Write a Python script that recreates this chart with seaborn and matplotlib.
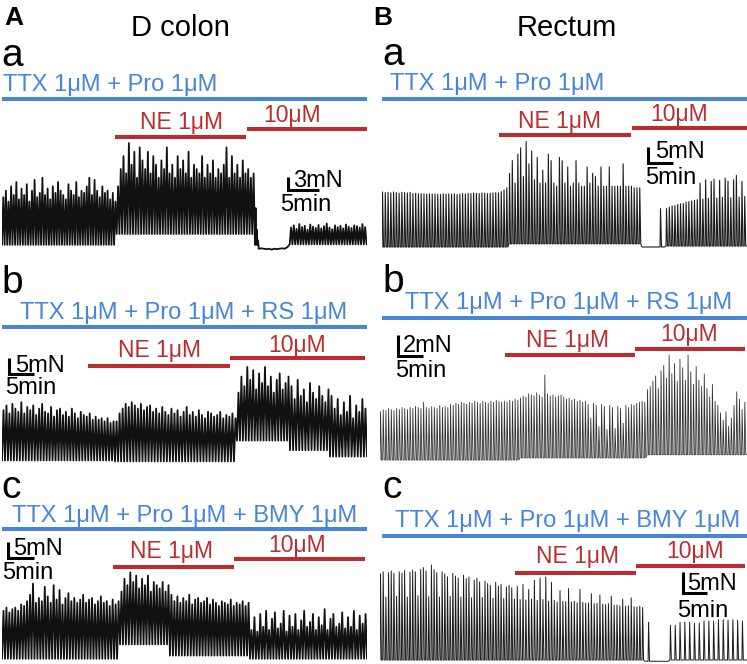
import pandas as pd
import matplotlib
matplotlib.use("Agg")
import matplotlib.pyplot as plt
import matplotlib.transforms as mtransforms
import seaborn as sns

BLUE = "#4784DA"
RED = "#BE2B2F"

# ---------------- data (minutes / mN) ----------------
# D colon a: TTX + Pro
dca_dur = [18.5, 22.3, 0.6, 5.0, 12.4]
dca_base = [0.5, 3.0, 0.5, -0.4, 0.6]
dca_ctrl = [11.5, 13.0, 10.5, 14.0, 12.0, 15.0, 11.0, 13.5, 12.0, 14.5, 10.5, 13.0, 15.5, 11.5, 12.5,
            16.0, 12.0, 13.5, 11.0, 14.0, 12.5, 15.0, 13.0, 12.0, 11.0, 14.5, 13.0, 12.0, 15.0, 11.5,
            13.0, 12.5, 14.0, 16.0, 12.0, 15.5, 13.0, 11.5, 14.0, 12.5, 13.0, 11.0, 12.5, 10.5]
dca_ne1 = [14, 18, 21, 17, 24, 19, 22, 16, 23, 20, 18, 22, 17, 21, 19, 16, 20, 18, 23, 17, 19, 16,
           21, 18, 20, 17, 22, 16, 19, 18, 17, 21, 16, 19, 17, 20, 16, 18, 17, 19, 23, 16, 21, 17,
           19, 16, 20, 17, 18, 16, 17]
dca_drop = [9.0, 4.0, 1.5]
dca_flat = [-0.3, -0.5, -0.6, -0.5, -0.3, -0.1]
dca_ne10 = [4.5, 5.0, 4.2, 5.3, 4.6, 4.9, 4.0, 5.2, 4.7, 4.4, 5.1, 4.3, 4.8, 5.4, 4.5, 4.1, 5.0,
            4.6, 4.9, 4.3, 5.2, 4.7, 4.4, 5.0, 4.8, 4.5, 5.3, 4.6]
dca_drug = {"NE": (18.2, 39.4), "10": (39.5, 58.8), "all": (0.0, 58.9)}

# D colon b: TTX + Pro + RS
dcb_dur = [22.6, 24.4, 10.6, 8.0, 7.4]
dcb_base = [0.8, 0.5, 7.0, 4.0, 2.0]
dcb_ctrl = [16.5, 18.0, 15.5, 18.5, 17.0, 16.0, 19.0, 15.5, 17.5, 16.5, 18.0, 15.0, 17.0, 18.5,
            16.0, 15.5, 17.5, 14.5, 16.5, 17.0, 15.0, 16.0, 14.5, 17.0, 15.5, 14.0, 16.0, 15.0,
            14.5, 15.5, 13.5, 14.5, 13.5, 14.0, 13.0, 14.0, 12.5, 13.0]
dcb_ne1 = [13.0, 15.5, 17.0, 18.5, 17.5, 19.0, 18.0, 17.0, 18.5, 16.5, 17.5, 18.0, 16.0, 17.0,
           15.5, 17.5, 16.0, 15.0, 17.0, 15.5, 16.5, 14.5, 16.0, 17.5, 15.0, 16.0, 14.5, 16.5,
           15.0, 14.0, 16.0, 15.5, 14.5, 15.0, 16.0, 14.0, 15.0, 14.5, 15.5, 14.0]
dcb_ne10a = [22, 27, 24, 30, 26, 29, 23, 28, 25, 30, 24, 27, 22, 26, 28, 23, 25, 27]
dcb_ne10b = [24, 20, 26, 21, 23, 19, 25, 22, 20, 24, 21, 19, 23]
dcb_ne10c = [21, 17, 20, 15, 19, 16, 21, 14, 18, 16, 20, 17]
dcb_drug = {"NE": (17.2, 45.6), "10": (45.6, 72.6), "all": (0.0, 73.0)}

# D colon c: TTX + Pro + BMY
dcc_dur = [22.7, 9.6, 15.4, 22.5]
dcc_base = [1.0, 5.5, 2.0, 1.0]
dcc_ctrl = [16.0, 17.0, 15.5, 16.5, 17.0, 16.0, 18.0, 17.5, 19.0, 21.0, 24.5, 18.5, 20.0, 19.0,
            23.5, 20.5, 18.5, 24.0, 19.5, 22.5, 18.0, 20.0, 21.5, 19.0, 20.0, 18.5, 19.5, 21.0,
            18.5, 19.5, 20.0, 18.0, 19.0, 20.5, 18.5, 19.0, 17.5, 19.5, 18.0, 19.0]
dcc_ne1a = [22, 26, 24, 28, 25, 27, 23, 26, 24, 27, 22, 25, 24, 23, 25, 22, 24]
dcc_ne1b = [21, 19, 20.5, 18.5, 20, 19, 21, 18, 19.5, 20, 18.5, 19, 20, 18, 19.5, 18.5, 17.5, 19,
            18.5, 18, 19.5, 17.5, 18.5, 18, 19, 17.5, 18.5]
dcc_ne10 = [10, 14, 9.5, 15, 11, 16, 10, 13.5, 15.5, 10.5, 12, 16, 9.5, 14.5, 11, 15, 10, 13, 16,
            11, 12.5, 15, 10, 14, 11.5, 16.5, 10, 13.5, 15, 11, 12, 15.5, 10.5, 14, 11, 16, 10,
            14.5, 12, 15]
dcc_drug = {"NE": (21.4, 44.6), "10": (44.6, 69.8), "all": (0.0, 70.2)}

# Rectum a: TTX + Pro
rea_dur = [25.4, 26.6, 4.8, 16.2]
rea_base = [0.0, 1.0, 0.0, 0.3]
rea_ctrl = [17.2, 17.0, 17.1, 16.9, 17.2, 17.0, 16.8, 17.1, 17.0, 16.9, 17.1, 16.7, 16.8, 16.6,
            16.7, 16.6, 16.5, 16.6, 16.5, 16.6, 16.5, 16.4, 16.6, 16.5, 16.6, 16.5, 16.6, 16.4,
            16.5, 16.7, 16.6, 16.8, 16.7, 16.9, 16.8, 16.7, 16.9, 16.8, 16.7, 16.8, 16.9, 17.0,
            16.9, 17.3, 17.8, 18.5]
rea_ne1 = [23, 27, 20, 29, 31, 22, 33, 26, 30, 21, 28, 20, 24, 20, 29, 27, 20, 19, 28, 27, 20, 25,
           19, 20, 27, 20, 19, 19, 25, 20, 23, 22, 19, 25, 19, 19, 25, 19, 19, 19, 19, 26, 19, 19,
           19, 18.5, 18.5, 18.5]
rea_gap = [0, 0, 0, 0, 0, 0, 12, 0]
rea_ne10 = [12.0, 12.5, 12.8, 13.0, 13.3, 13.5, 13.6, 14.0, 14.2, 14.4, 14.6, 14.8, 20.0, 15.0,
            21.0, 15.2, 20.5, 21.2, 15.3, 20.8, 15.5, 21.5, 20.6, 15.4, 21.0, 22.4, 15.6, 20.5, 15.8]
rea_drug = {"NE": (23.4, 49.8), "10": (50.0, 73.0), "all": (0.0, 73.0)}

# Rectum b: TTX + Pro + RS
reb_dur = [28.0, 25.4, 20.0]
reb_base = [0.0, 0.2, 0.5]
reb_ctrl = [4.6, 4.8, 4.7, 4.9, 4.8, 4.7, 4.9, 4.8, 5.0, 4.9, 4.8, 5.0, 4.9, 5.1, 5.0, 4.9, 5.5,
            5.0, 4.9, 5.1, 5.0, 4.9, 5.2, 5.0, 5.1, 5.0, 5.3, 5.2, 5.4, 5.3, 5.5, 5.4, 5.3, 5.5,
            5.4, 5.6, 5.5, 5.4, 5.6, 5.5, 5.4, 5.6, 5.5, 5.7, 5.6, 5.5, 5.6, 5.5, 5.7, 5.6, 5.8, 5.7]
reb_ne1 = [5.9, 6.1, 6.0, 6.3, 6.2, 6.1, 6.4, 6.2, 6.0, 8.1, 6.3, 6.1, 6.2, 6.0, 6.1, 6.2, 6.0,
           5.8, 5.9, 5.7, 5.8, 5.6, 5.7, 5.5, 5.6, 5.3, 4.0, 5.4, 5.2, 3.2, 5.3, 5.1, 2.9, 5.2,
           5.0, 3.0, 5.1, 4.9, 3.5, 5.2, 5.0, 5.3, 5.2, 5.4, 5.5, 5.6, 5.5]
reb_ne10 = [6.7, 7.0, 7.5, 8.0, 6.8, 8.5, 9.0, 7.8, 10.0, 8.2, 9.2, 7.5, 9.6, 8.8, 7.6, 10.0, 8.4,
            7.2, 8.9, 7.6, 7.0, 8.2, 6.8, 6.0, 7.2, 5.6, 5.2, 4.5, 3.8, 4.6, 3.2, 4.0, 5.2, 6.5,
            5.8, 4.8, 5.5]
reb_drug = {"NE": (25.0, 51.0), "10": (51.0, 73.0), "all": (0.4, 73.4)}

# Rectum c: TTX + Pro + BMY
rec_dur = [27.9, 27.3, 5.2, 16.0]
rec_base = [0.0, 0.0, -0.3, 0.0]
rec_ctrl = [20.5, 21.0, 15.0, 20.8, 21.2, 20.6, 15.2, 21.0, 20.7, 21.3, 15.0, 20.9, 21.4, 21.0,
            15.3, 21.6, 22.0, 21.2, 15.1, 22.6, 21.5, 20.8, 15.0, 21.0, 20.5, 19.8, 15.2, 20.6,
            20.0, 19.5, 15.0, 20.2, 19.4, 19.8, 14.8, 19.0, 19.5, 18.6, 14.9, 18.8, 18.2, 17.8,
            14.7, 18.5, 17.6, 18.0, 14.6, 17.4, 17.8, 17.2]
rec_ne1 = [14.5, 17.5, 14.4, 18.0, 14.3, 16.8, 14.5, 19.0, 14.2, 19.5, 14.4, 19.8, 14.0, 18.5,
           14.2, 13.8, 16.5, 14.0, 13.9, 17.0, 13.8, 14.0, 13.6, 16.8, 13.7, 13.5, 13.6, 15.8,
           13.4, 13.5, 15.5, 13.3, 13.2, 13.4, 15.2, 13.0, 13.1, 12.9, 14.5, 12.8, 12.9, 14.8,
           12.7, 12.6, 12.8, 12.5]
rec_gap = [0, 9.0, 0, 0, 0, 0, 0, 0]
rec_ne10 = [8.3, 8.3, 9.0, 9.0, 9.0, 8.8, 8.8, 9.3, 9.3, 9.3, 9.6, 9.6, 9.5, 9.6, 9.5, 9.3]
rec_drug = {"NE": (28.1, 53.3), "10": (53.3, 76.0), "all": (0.4, 76.4)}


def build_trace(durs, bases, segs, spiky):
    t, f = [], []
    start = 0.0
    for dur, base, peaks in zip(durs, bases, segs):
        step = dur / len(peaks)
        w = min(0.3, 0.6 * step)
        for i, pk in enumerate(peaks):
            ti = start + i * step
            if spiky:
                t += [ti, ti + 0.35 * w, ti + w]
                f += [base, pk if pk else base, base]
            else:
                t += [ti, ti + step / 2]
                f += [base, pk]
        start += dur
    t.append(start)
    f.append(bases[-1])
    return pd.DataFrame({"min": t, "mN": f})


sns.set_style("white")
plt.rcParams["font.family"] = ["Liberation Sans", "DejaVu Sans"]

W, H = 747, 664
fig = plt.figure(figsize=(W / 100, H / 100), dpi=100)
pxT = mtransforms.Affine2D().scale(1 / W, -1 / H).translate(0, 1) + fig.transFigure

# layout per recording: axes box in px, px per min, px per mN, baseline px,
# drug bar rows (px), scale bar corner (min, mN) and size
panels = [
    dict(df=build_trace(dca_dur, dca_base, [dca_ctrl, dca_ne1, dca_drop, dca_flat, dca_ne10], False),
         box=(2, 138, 367, 252), ppm=6.2, ppn=4.33, base=247, drug=dca_drug,
         rows=(99, 137, 129), sb=(46.1, 13.2, 3), lw=1.3, color="#111111"),
    dict(df=build_trace(dcb_dur, dcb_base, [dcb_ctrl, dcb_ne1, dcb_ne10a, dcb_ne10b, dcb_ne10c], False),
         box=(2, 362, 367, 466), ppm=5.0, ppn=3.2, base=463, drug=dcb_drug,
         rows=(327, 366, 358), sb=(1.4, 27.8, 5), lw=1.3, color="#111111"),
    dict(df=build_trace(dcc_dur, dcc_base, [dcc_ctrl, dcc_ne1a, dcc_ne1b, dcc_ne10], False),
         box=(2, 566, 367, 664), ppm=5.2, ppn=3.2, base=662, drug=dcc_drug,
         rows=(529, 567, 559), sb=(1.15, 32.5, 5), lw=1.3, color="#111111"),
    dict(df=build_trace(rea_dur, rea_base, [rea_ctrl, rea_ne1, rea_gap, rea_ne10], True),
         box=(382, 138, 747, 250), ppm=5.0, ppn=3.2, base=247, drug=rea_drug,
         rows=(99, 135, 128), sb=(53.2, 26.25, 5), lw=0.8, color="#1c1c1c"),
    dict(df=build_trace(reb_dur, reb_base, [reb_ctrl, reb_ne1, reb_ne10], True),
         box=(380, 353, 747, 462), ppm=5.0, ppn=10.5, base=460, drug=reb_drug,
         rows=(318, 355, 349), sb=(3.6, 9.9, 2), lw=0.6, color="#333333"),
    dict(df=build_trace(rec_dur, rec_base, [rec_ctrl, rec_ne1, rec_gap, rec_ne10], True),
         box=(380, 562, 747, 664), ppm=4.8, ppn=4.2, base=660, drug=rec_drug,
         rows=(536, 573, 566), sb=(63.1, 16.0, 5), lw=0.7, color="#1c1c1c"),
]

for p in panels:
    x0, y0, x1, y1 = p["box"]
    ax = fig.add_axes([x0 / W, 1 - y1 / H, (x1 - x0) / W, (y1 - y0) / H])
    sns.lineplot(data=p["df"], x="min", y="mN", ax=ax, estimator=None, sort=False,
                 color=p["color"], lw=p["lw"])
    ax.set_xlim(0, (x1 - x0) / p["ppm"])
    ax.set_ylim((p["base"] - y1) / p["ppn"], (p["base"] - y0) / p["ppn"])
    ax.set_axis_off()

    # drug application bars
    bt = mtransforms.blended_transform_factory(ax.transData, pxT)
    r_all, r_ne, r_10 = p["rows"]
    for key, row, col in [("all", r_all, BLUE), ("NE", r_ne, RED), ("10", r_10, RED)]:
        a, b = p["drug"][key]
        ax.plot([a, b], [row, row], transform=bt, color=col, lw=2.9,
                solid_capstyle="butt", clip_on=False)

    # scale bar: 5 min x N mN
    sx, sy, smn = p["sb"]
    ax.plot([sx, sx, sx + 5], [sy + smn, sy, sy], color="black", lw=2.2,
            solid_capstyle="butt", solid_joinstyle="miter", clip_on=False)

# texts: (string, x px, baseline px, size, color, ha, weight)
labels = [
    ("A", 4, 25, 19, "black", "left", "bold"),
    ("D colon", 180, 36, 21, "black", "center", "normal"),
    ("a", 1, 66, 28, "black", "left", "normal"),
    ("TTX 1μM + Pro 1μM", 3, 91, 17, BLUE, "left", "normal"),
    ("NE 1μM", 181, 129, 16.5, RED, "center", "normal"),
    ("10μM", 292, 122, 16.5, RED, "center", "normal"),
    ("3mN", 293, 187, 17, "black", "left", "normal"),
    ("5min", 280, 211, 17, "black", "left", "normal"),
    ("b", 1, 293, 28, "black", "left", "normal"),
    ("TTX 1μM + Pro 1μM + RS 1μM", 20, 319, 17, BLUE, "left", "normal"),
    ("NE 1μM", 159, 357, 16.5, RED, "center", "normal"),
    ("10μM", 297, 352, 16.5, RED, "center", "normal"),
    ("5mN", 15, 372, 17, "black", "left", "normal"),
    ("5min", 5, 394, 17, "black", "left", "normal"),
    ("c", 1, 498, 28, "black", "left", "normal"),
    ("TTX 1μM + Pro 1μM + BMY 1μM", 12, 522, 17, BLUE, "left", "normal"),
    ("NE 1μM", 172, 558, 16.5, RED, "center", "normal"),
    ("10μM", 297, 552, 16.5, RED, "center", "normal"),
    ("5mN", 13, 555, 17, "black", "left", "normal"),
    ("5min", 2, 579, 17, "black", "left", "normal"),
    ("B", 373, 25, 19, "black", "left", "bold"),
    ("Rectum", 567, 36, 21, "black", "center", "normal"),
    ("a", 382, 65, 28, "black", "left", "normal"),
    ("TTX 1μM + Pro 1μM", 390, 90, 17, BLUE, "left", "normal"),
    ("NE 1μM", 560, 128, 16.5, RED, "center", "normal"),
    ("10μM", 679, 121, 16.5, RED, "center", "normal"),
    ("5mN", 655, 158, 17, "black", "left", "normal"),
    ("5min", 645, 184, 17, "black", "left", "normal"),
    ("b", 382, 292, 28, "black", "left", "normal"),
    ("TTX 1μM + Pro 1μM + RS 1μM", 405, 309, 17, BLUE, "left", "normal"),
    ("NE 1μM", 567, 347, 16.5, RED, "center", "normal"),
    ("10μM", 689, 341, 16.5, RED, "center", "normal"),
    ("2mN", 403, 352, 17, "black", "left", "normal"),
    ("5min", 395, 377, 17, "black", "left", "normal"),
    ("c", 382, 498, 28, "black", "left", "normal"),
    ("TTX 1μM + Pro 1μM + BMY 1μM", 395, 527, 17, BLUE, "left", "normal"),
    ("NE 1μM", 578, 563, 16.5, RED, "center", "normal"),
    ("10μM", 695, 558, 16.5, RED, "center", "normal"),
    ("5mN", 687, 590, 17, "black", "left", "normal"),
    ("5min", 677, 617, 17, "black", "left", "normal"),
]
for s, x, y, size, col, ha, wt in labels:
    fig.text(x, y, s, transform=pxT, fontsize=size, color=col, ha=ha, va="baseline",
             fontweight=wt)

fig.savefig("out.png", dpi=100)
